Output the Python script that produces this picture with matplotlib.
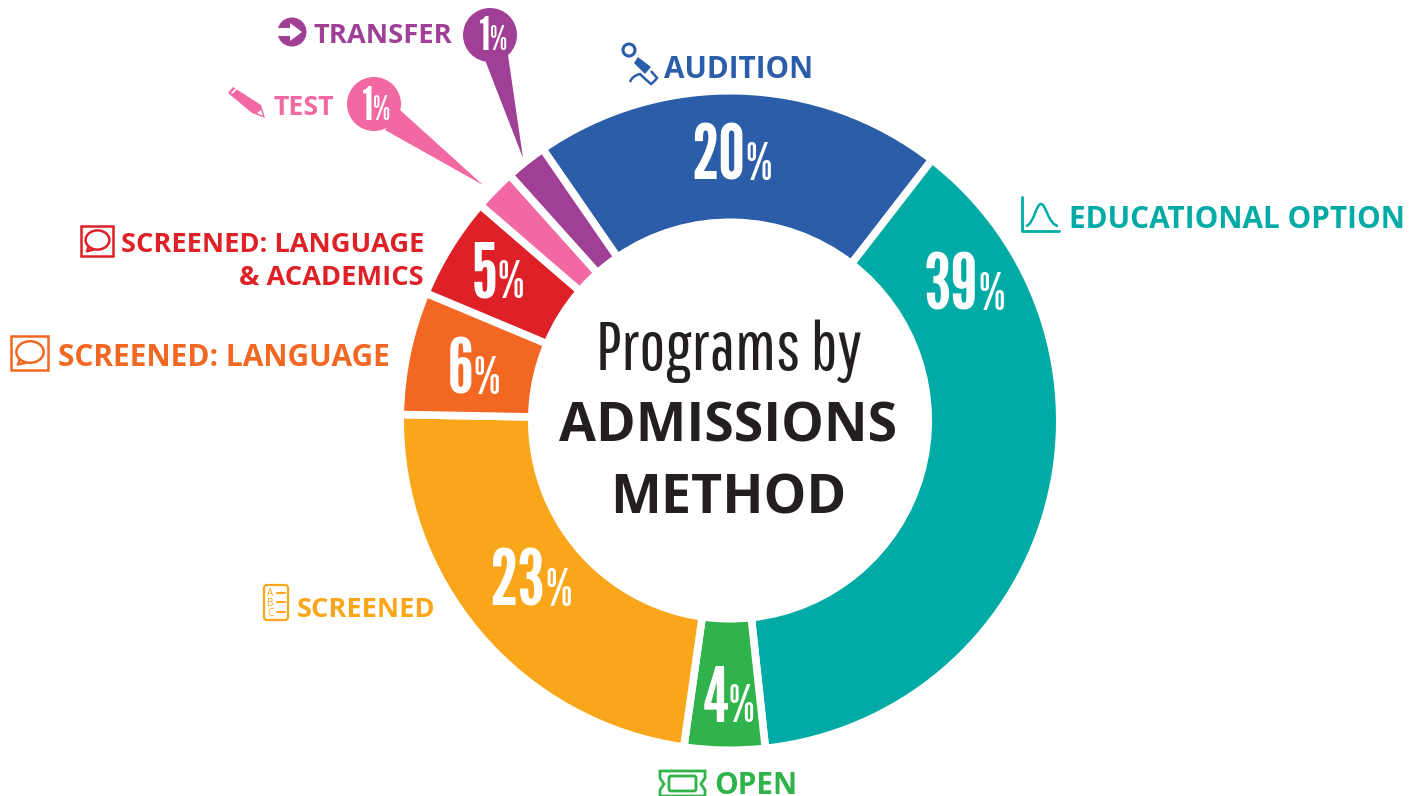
import matplotlib
matplotlib.use("Agg")
import matplotlib.pyplot as plt
from matplotlib.patches import Circle, Polygon, FancyBboxPatch, Rectangle, Ellipse, PathPatch
from matplotlib.path import Path

# kategorien, anteile wie im bild gemessen (winkel), beschriftung wie gedruckt
categories = ["AUDITION", "EDUCATIONAL OPTION", "OPEN", "SCREENED", "SCREENED: LANGUAGE",
              "SCREENED: LANGUAGE\n& ACADEMICS", "TEST", "TRANSFER"]
shares = [20.1, 37.8, 3.95, 23.05, 6.03, 5.01, 2.03, 2.03]
printed = ["20", "39", "4", "23", "6", "5", "1", "1"]
colors = ["#2B5DA8", "#00ABA6", "#2FB34A", "#FAA61A", "#F26722", "#DE2027", "#F168A2", "#A03F96"]

BLUE, TEAL, GREEN, YELLOW, ORANGE, RED, PINK, PURPLE = colors
WIDE = ["Open Sans", "DejaVu Sans"]
NARROW = ["League Gothic", "Fira Sans Extra Condensed", "Liberation Sans"]
THIN = ["Pathway Gothic One", "Fira Sans Extra Condensed", "Liberation Sans"]

fig = plt.figure(figsize=(14.23, 7.96), dpi=100)
ax = fig.add_axes([0, 0, 1, 1])

# achse laeuft in pixeln, y nach unten -> counterclock=True ist im bild im uhrzeigersinn
ax.pie(shares, colors=colors, center=(730, 420.5), radius=329.8, startangle=-124.6, counterclock=True,
       wedgeprops=dict(width=131.6, edgecolor="white", linewidth=5.5))
ax.set_xlim(0, 1423)
ax.set_ylim(796, 0)
ax.set_axis_off()


def pct(x, base, num, size, size2, color="white"):
    ax.text(x, base, num, family=NARROW, fontsize=size, color=color, ha="right", va="baseline", zorder=6)
    ax.text(x, base, "%", family=NARROW, fontsize=size2, color=color, ha="left", va="baseline", zorder=6)


def label(x, y, txt, size, color, ha="left"):
    ax.text(x, y, txt, family=WIDE, weight="bold", fontsize=size, color=color, ha=ha, va="center_baseline", zorder=6)


def stroke(xs, ys, color, lw=2.0):
    ax.plot(xs, ys, color=color, lw=lw, solid_capstyle="round", solid_joinstyle="round", zorder=6)


# Prozentzahlen im ring
pct(745, 180, printed[0], 54, 38)
pct(978, 310, printed[1], 56, 38)
pct(729, 722, printed[2], 54, 37)
pct(545, 606, printed[3], 56, 38)
pct(473, 394, printed[4], 54, 38)
pct(497, 298, printed[5], 54, 38)

# Pins fuer die kleinen segmente
ax.add_patch(Circle((490, 35), 27, fc=PURPLE, ec="none", zorder=4))
ax.add_patch(Polygon([(485, 60), (508, 55), (523, 158)], fc=PURPLE, ec="none", zorder=4))
ax.add_patch(Circle((374, 104), 27, fc=PINK, ec="none", zorder=4))
ax.add_patch(Polygon([(400, 110), (385, 130), (483, 185)], fc=PINK, ec="none", zorder=4))
pct(490, 50, printed[7], 34, 25)
pct(373, 120, printed[6], 34, 25)

# Titel in der mitte
ax.text(729, 370, "Programs by", family=THIN, fontsize=50, color="#231F20", ha="center", va="baseline")
ax.text(728, 442, "ADMISSIONS", family=WIDE, weight="bold", fontsize=38.6, color="#231F20", ha="center", va="baseline")
ax.text(728, 513, "METHOD", family=WIDE, weight="bold", fontsize=38.8, color="#231F20", ha="center", va="baseline")

# Beschriftungen
label(664, 66, categories[0], 21.3, BLUE)
label(1069, 217, categories[1], 21.4, TEAL)
label(714, 782, categories[2], 21.4, GREEN)
label(297, 607, categories[3], 19.6, YELLOW)
label(58, 355, categories[4], 21.5, ORANGE)
label(424, 242, "SCREENED: LANGUAGE", 19.6, RED, ha="right")
label(424, 275, "& ACADEMICS", 19.6, RED, ha="right")
label(274, 105, categories[6], 19.3, PINK)
label(314, 33, categories[7], 19.7, PURPLE)

# Icon: transfer
ax.add_patch(Circle((292, 32), 14.5, fc=PURPLE, ec="none", zorder=5))
ax.add_patch(Polygon([(277, 28), (290, 28), (290, 23), (302, 32), (290, 41), (290, 36), (277, 36)], fc="white", ec="none", zorder=6))

# Icon: bleistift
ax.add_patch(Polygon([(233, 87), (228, 93), (252, 113), (265, 118), (261, 105)], fc=PINK, ec="none", zorder=5))
stroke([232, 236], [93, 89], "white", 1.2)
ax.add_patch(Polygon([(257, 113), (263, 116), (261, 110)], fc="white", ec="none", zorder=6))

# Icon: mikrofon
ax.add_patch(Circle((629, 50), 6, fc="none", ec=BLUE, lw=2.2, zorder=5))
ax.add_patch(Polygon([(638, 57), (634, 63), (645, 74), (651, 67)], fc=BLUE, ec="none", zorder=5))
ax.add_patch(PathPatch(Path([(651, 71), (657, 78), (654, 82), (651, 84), (646, 80), (640, 74), (632, 76), (630, 82)],
                            [Path.MOVETO, Path.LINETO, Path.CURVE3, Path.CURVE3, Path.CURVE3, Path.CURVE3, Path.CURVE3, Path.CURVE3]),
                       fc="none", ec=BLUE, lw=1.8, zorder=5))

# Icon: glockenkurve
stroke([1022, 1022, 1059], [197, 231, 231], TEAL, 2)
ax.add_patch(PathPatch(Path([(1026, 226), (1034, 224), (1036, 204), (1041, 204), (1046, 204), (1048, 224), (1058, 226)],
                            [Path.MOVETO, Path.CURVE4, Path.CURVE4, Path.CURVE4, Path.CURVE4, Path.CURVE4, Path.CURVE4]),
                       fc="none", ec=TEAL, lw=1.8, zorder=5))

# Icon: liste a b c
ax.add_patch(FancyBboxPatch((264, 585), 24, 35, boxstyle="round,pad=0,rounding_size=3", fc="none", ec=YELLOW, lw=1.6, zorder=5))
for yy, letter in zip([594, 603, 613], "ABC"):
    ax.text(270, yy, letter, family=WIDE, fontsize=7, color=YELLOW, ha="center", va="center", zorder=6)
    stroke([277, 285], [yy - 1, yy - 1], YELLOW, 1.5)

# Icon: sprechblase, zweimal
for x0, y0, w, h, col in [(80, 225, 34, 32, RED), (10, 335, 39, 36, ORANGE)]:
    ax.add_patch(Rectangle((x0 + 1, y0 + 1), w - 2, h - 2, fc="none", ec=col, lw=1.8, zorder=5))
    cx, cy = x0 + w / 2 + 0.5, y0 + h / 2 - 1
    ax.add_patch(Ellipse((cx, cy), w * 0.7, h * 0.6, fc="none", ec=col, lw=1.8, zorder=5))
    stroke([cx - w * 0.26, cx - w * 0.31, cx - w * 0.12], [cy + h * 0.2, cy + h * 0.35, cy + h * 0.3], col, 1.8)

# Icon: ticket
ax.add_patch(Polygon([(660, 771), (705, 771), (705, 778), (701, 784), (705, 790), (705, 796), (660, 796), (660, 790), (664, 784), (660, 778)],
                     closed=True, fc="none", ec=GREEN, lw=2, zorder=5, clip_on=False))
ax.add_patch(FancyBboxPatch((669, 776), 27, 15, boxstyle="round,pad=0,rounding_size=2", fc="none", ec=GREEN, lw=2, zorder=5))

fig.savefig("out.png", dpi=100)
